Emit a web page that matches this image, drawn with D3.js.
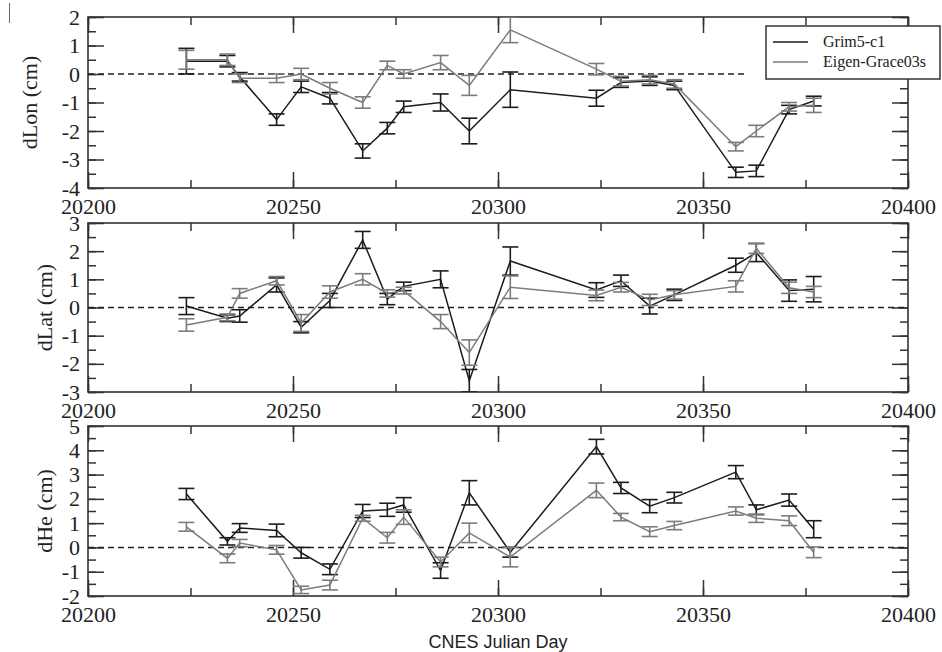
<!DOCTYPE html>
<html>
<head>
<meta charset="utf-8">
<script src="https://cdn.jsdelivr.net/npm/d3@7"></script>
<style>
body { margin: 0; background: #fff; }
svg text { font-family: "Liberation Serif", "Times New Roman", serif; fill: #222; }
</style>
</head>
<body>
<script>
// CNES Julian days of each solution (same in all three panels)
const days = [20224, 20234, 20237, 20246, 20252, 20259, 20267, 20273, 20277, 20286,
    20293, 20303, 20324, 20330, 20337, 20343, 20358, 20363, 20371, 20377];

const seriesNames = ['Grim5-c1', 'Eigen-Grace03s'];

// dLon (cm)
const lonGrim = [0.45, 0.45, -0.1, -1.6, -0.45, -0.85, -2.7, -1.9, -1.15, -1.0,
    -2.0, -0.55, -0.85, -0.3, -0.25, -0.4, -3.45, -3.4, -1.25, -0.95];
const lonGrimErr = [0.45, 0.2, 0.15, 0.2, 0.2, 0.2, 0.25, 0.2, 0.2, 0.3,
    0.45, 0.62, 0.28, 0.17, 0.15, 0.15, 0.18, 0.2, 0.15, 0.17];
const lonEigen = [0.5, 0.5, -0.15, -0.15, 0.0, -0.5, -1.0, 0.3, 0.0, 0.4,
    -0.4, 1.55, 0.17, -0.25, -0.2, -0.35, -2.55, -2.0, -1.15, -1.1];
const lonEigenErr = [0.33, 0.2, 0.15, 0.15, 0.2, 0.2, 0.2, 0.15, 0.15, 0.25,
    0.35, 0.45, 0.2, 0.17, 0.15, 0.15, 0.15, 0.2, 0.15, 0.25];

// dLat (cm)
const latGrim = [0.05, -0.38, -0.3, 0.8, -0.7, 0.25, 2.4, 0.3, 0.75, 1.0,
    -2.6, 1.65, 0.62, 0.95, 0.05, 0.45, 1.5, 1.95, 0.6, 0.65];
const latGrimErr = [0.3, 0.12, 0.22, 0.25, 0.2, 0.25, 0.3, 0.2, 0.15, 0.3,
    0.4, 0.5, 0.26, 0.2, 0.28, 0.2, 0.25, 0.32, 0.38, 0.45];
const latEigen = [-0.62, -0.35, 0.5, 0.95, -0.55, 0.55, 1.0, 0.5, 0.6, -0.5,
    -1.6, 0.72, 0.43, 0.72, 0.27, 0.45, 0.75, 2.1, 0.7, 0.55];
const latEigenErr = [0.22, 0.12, 0.17, 0.15, 0.3, 0.22, 0.2, 0.13, 0.12, 0.25,
    0.45, 0.4, 0.19, 0.17, 0.2, 0.15, 0.2, 0.18, 0.2, 0.2];

// dHe (cm)
const heGrim = [2.2, 0.25, 0.8, 0.7, -0.22, -0.9, 1.5, 1.55, 1.75, -0.95,
    2.25, -0.2, 4.15, 2.45, 1.7, 2.05, 3.1, 1.55, 1.95, 0.75];
const heGrimErr = [0.23, 0.15, 0.18, 0.26, 0.22, 0.22, 0.27, 0.27, 0.3, 0.32,
    0.5, 0.2, 0.3, 0.23, 0.27, 0.22, 0.27, 0.2, 0.25, 0.35];
const heEigen = [0.85, -0.45, 0.18, -0.1, -1.75, -1.55, 1.2, 0.4, 1.25, -0.6,
    0.6, -0.4, 2.35, 1.25, 0.65, 0.9, 1.5, 1.2, 1.1, -0.2];
const heEigenErr = [0.18, 0.18, 0.15, 0.18, 0.15, 0.2, 0.12, 0.22, 0.3, 0.2,
    0.4, 0.4, 0.3, 0.15, 0.2, 0.17, 0.17, 0.17, 0.2, 0.22];

// axes
const xDomain = [20200, 20400];
const xTicks = [20200, 20250, 20300, 20350, 20400];
const yLabels = ['dLon (cm)', 'dLat (cm)', 'dHe (cm)'];
const yDomains = [[-4, 2], [-3, 3], [-2, 5]];
const zeroLineEnd = [20361, 20400, 20400];
const xTitle = 'CNES Julian Day';

const outerW = 942,
    outerH = 652;

const margin = { left: 88, right: 34 };
const panelTop = [17, 223, 426],
    panelBottom = [188, 392, 596],
    labelX = [29, 44, 44];

const colors = ['#1c1c1c', '#7c7c7c'];
const capHalf = 8;
const serif = '"Liberation Serif", "Times New Roman", serif';

const svg = d3.select('body').append('svg')
    .attr('width', outerW)
    .attr('height', outerH);

const x = d3.scaleLinear()
    .domain(xDomain)
    .range([margin.left, outerW - margin.right]);

const minorX = d3.range(xDomain[0], xDomain[1] + 1, 25);

function styleAxis(sel) {
    sel.attr('font-family', null).attr('font-size', null);
    sel.select('.domain').remove();
    sel.selectAll('line').attr('stroke', '#333').attr('stroke-width', 1.5);
    sel.selectAll('text')
        .attr('fill', '#222')
        .style('font-size', '22px')
        .style('font-family', serif);
}

function drawPanel(i, sets) {
    const top = panelTop[i],
        bottom = panelBottom[i];
    const y = d3.scaleLinear().domain(yDomains[i]).range([bottom, top]);
    const yMajor = d3.range(yDomains[i][0], yDomains[i][1] + 1, 1);
    const yMinor = d3.range(yDomains[i][0], yDomains[i][1] + 0.01, 0.5);

    const g = svg.append('g').attr('class', 'panel');

    g.append('clipPath').attr('id', 'clip' + i)
        .append('rect')
        .attr('x', x.range()[0])
        .attr('y', top)
        .attr('width', x.range()[1] - x.range()[0])
        .attr('height', bottom - top);

    // ticks pointing inward on all four sides
    g.append('g').attr('transform', `translate(0, ${bottom})`)
        .call(d3.axisBottom(x).tickValues(xTicks).tickSize(-16).tickPadding(10).tickFormat(d3.format('d')))
        .call(styleAxis);
    g.append('g').attr('transform', `translate(0, ${bottom})`)
        .call(d3.axisBottom(x).tickValues(minorX).tickSize(-8).tickFormat(''))
        .call(styleAxis);
    g.append('g').attr('transform', `translate(0, ${top})`)
        .call(d3.axisTop(x).tickValues(xTicks).tickSize(-16).tickFormat(''))
        .call(styleAxis);
    g.append('g').attr('transform', `translate(0, ${top})`)
        .call(d3.axisTop(x).tickValues(minorX).tickSize(-8).tickFormat(''))
        .call(styleAxis);

    g.append('g').attr('transform', `translate(${x.range()[0]}, 0)`)
        .call(d3.axisLeft(y).tickValues(yMajor).tickSize(-16).tickPadding(8).tickFormat(d => String(d)))
        .call(styleAxis);
    g.append('g').attr('transform', `translate(${x.range()[0]}, 0)`)
        .call(d3.axisLeft(y).tickValues(yMinor).tickSize(-8).tickFormat(''))
        .call(styleAxis);
    g.append('g').attr('transform', `translate(${x.range()[1]}, 0)`)
        .call(d3.axisRight(y).tickValues(yMajor).tickSize(-16).tickFormat(''))
        .call(styleAxis);
    g.append('g').attr('transform', `translate(${x.range()[1]}, 0)`)
        .call(d3.axisRight(y).tickValues(yMinor).tickSize(-8).tickFormat(''))
        .call(styleAxis);

    // frame
    g.append('rect')
        .attr('x', x.range()[0])
        .attr('y', top)
        .attr('width', x.range()[1] - x.range()[0])
        .attr('height', bottom - top)
        .attr('fill', 'none')
        .attr('stroke', '#333')
        .attr('stroke-width', 1.6);

    // zero line
    g.append('line')
        .attr('x1', x(xDomain[0]))
        .attr('x2', x(zeroLineEnd[i]))
        .attr('y1', y(0))
        .attr('y2', y(0))
        .attr('stroke', '#222')
        .attr('stroke-width', 1.5)
        .attr('stroke-dasharray', '6,4');

    const plot = g.append('g').attr('clip-path', `url(#clip${i})`);

    const line = d3.line()
        .x(d => x(d.day))
        .y(d => y(d.v));

    sets.forEach((s, k) => {
        const pts = days.map((day, j) => ({ day: day, v: s.v[j], e: s.e[j] }));
        const sg = plot.append('g').attr('class', 'set');

        sg.append('path')
            .datum(pts)
            .attr('d', line)
            .attr('fill', 'none')
            .attr('stroke', colors[k])
            .attr('stroke-width', 1.5);

        const bars = sg.selectAll('.err')
            .data(pts)
            .enter()
            .append('g')
            .attr('class', 'err')
            .attr('stroke', colors[k])
            .attr('stroke-width', 1.6);

        bars.append('line')
            .attr('x1', d => x(d.day)).attr('x2', d => x(d.day))
            .attr('y1', d => y(d.v - d.e)).attr('y2', d => y(d.v + d.e));
        bars.append('line')
            .attr('x1', d => x(d.day) - capHalf).attr('x2', d => x(d.day) + capHalf)
            .attr('y1', d => y(d.v + d.e)).attr('y2', d => y(d.v + d.e));
        bars.append('line')
            .attr('x1', d => x(d.day) - capHalf).attr('x2', d => x(d.day) + capHalf)
            .attr('y1', d => y(d.v - d.e)).attr('y2', d => y(d.v - d.e));
    });

    // y title
    g.append('text')
        .attr('transform', `translate(${labelX[i]}, ${(top + bottom) / 2}) rotate(-90)`)
        .attr('text-anchor', 'middle')
        .attr('dy', '0.35em')
        .style('font-size', '22px')
        .style('font-family', serif)
        .text(yLabels[i]);
}

drawPanel(0, [{ v: lonGrim, e: lonGrimErr }, { v: lonEigen, e: lonEigenErr }]);
drawPanel(1, [{ v: latGrim, e: latGrimErr }, { v: latEigen, e: latEigenErr }]);
drawPanel(2, [{ v: heGrim, e: heGrimErr }, { v: heEigen, e: heEigenErr }]);

// x title
svg.append('text')
    .attr('x', (x.range()[0] + x.range()[1]) / 2)
    .attr('y', 648)
    .attr('text-anchor', 'middle')
    .style('font-size', '18px')
    .style('font-family', '"Liberation Sans", Arial, sans-serif')
    .text(xTitle);

// legend
const legend = svg.append('g').attr('class', 'legend');
legend.append('rect')
    .attr('x', 766)
    .attr('y', 26)
    .attr('width', 174)
    .attr('height', 53)
    .attr('fill', '#fff')
    .attr('stroke', '#333')
    .attr('stroke-width', 1.5);

const items = legend.selectAll('.item')
    .data(seriesNames)
    .enter()
    .append('g')
    .attr('class', 'item')
    .attr('transform', (d, k) => `translate(773, ${42 + k * 20})`);

items.append('line')
    .attr('x1', 0).attr('x2', 35)
    .attr('stroke', (d, k) => colors[k])
    .attr('stroke-width', 1.5);

items.append('text')
    .attr('x', 50)
    .attr('dy', '0.32em')
    .style('font-size', '16px')
    .style('font-family', serif)
    .text(d => d);

// small mark at the top-left corner of the scan
svg.append('line')
    .attr('x1', 9.5).attr('x2', 9.5)
    .attr('y1', 3).attr('y2', 23)
    .attr('stroke', '#666')
    .attr('stroke-width', 1);
</script>
</body>
</html>
